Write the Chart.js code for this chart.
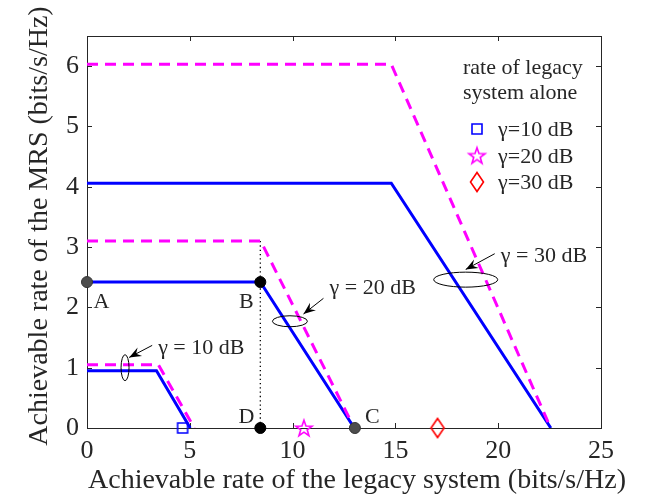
<!DOCTYPE html>
<html><head><meta charset="utf-8">
<script src="https://cdn.jsdelivr.net/npm/chart.js@4/dist/chart.umd.min.js"></script>
<style>html,body{margin:0;padding:0;background:#fff;}#wrap{width:664px;height:498px;position:relative;}</style>
</head><body><div id="wrap"><canvas id="c"></canvas></div>
<script>
// ---- data ----
const xTicks = [0, 5, 10, 15, 20, 25];
const yTicks = [0, 1, 2, 3, 4, 5, 6];
const xTitle = 'Achievable rate of the legacy system (bits/s/Hz)';
const yTitle = 'Achievable rate of the MRS (bits/s/Hz)';

// achievable rate region (blue, solid) and upper bound (magenta, dashed)
const mrs10X = [0, 3.38, 5.02];  const mrs10Y = [0.95, 0.95, 0];
const ub10X  = [0, 3.47, 5.22];  const ub10Y  = [1.05, 1.05, 0];
const mrs20X = [0, 8.43, 13.0];  const mrs20Y = [2.42, 2.42, 0];
const ub20X  = [0, 8.45, 13.0];  const ub20Y  = [3.1, 3.1, 0];
const mrs30X = [0, 14.8, 22.56]; const mrs30Y = [4.06, 4.06, 0];
const ub30X  = [0, 14.8, 22.55]; const ub30Y  = [6.03, 6.03, 0];

// special points A, B, C, D
const ptNames = ['A', 'B', 'C', 'D'];
const ptX = [0, 8.43, 13.03, 8.43];
const ptY = [2.42, 2.42, 0, 0];
// dotted guide B-D
const guideX = [8.43, 8.43]; const guideY = [3.1, 0];

// rate of legacy system alone
const legacyNames = ['\u03b3=10 dB', '\u03b3=20 dB', '\u03b3=30 dB'];
const legacyX = [4.65, 10.55, 17.05];
const legacyY = [0, 0, 0];

// annotations (data coordinates)
const noteText = ['\u03b3 = 10 dB', '\u03b3 = 20 dB', '\u03b3 = 30 dB'];
const noteEllX = [1.85, 9.87, 18.42]; const noteEllY = [1.0, 1.77, 2.46];
const noteTipX = [2.05, 10.53, 18.42]; const noteTipY = [1.17, 1.89, 2.63];
const noteTailX = [3.17, 11.5, 19.83]; const noteTailY = [1.37, 2.15, 2.89];
const noteTxtX = [3.46, 11.8, 20.13]; const noteTxtY = [1.32, 2.32, 2.85];

// ---- styles ----
const BLUE = '#0000ff', MAG = '#ff00ff', RED = '#ff0000';
const TXT = '#262626';
const SERIF = '"Liberation Serif", "Times New Roman", serif';
const noteEllR = [[4, 13], [17.5, 5.5], [32, 7.5]];

function pts(xs, ys) { return xs.map((x, i) => ({x: x, y: ys[i]})); }

function makeMarker(kind, color) {
  const c = document.createElement('canvas');
  c.width = 24; c.height = 24;
  const g = c.getContext('2d');
  g.strokeStyle = color; g.lineWidth = 1.6; g.lineJoin = 'miter';
  g.beginPath();
  if (kind === 'square') {
    g.rect(7, 7, 10, 10);
  } else if (kind === 'star') {
    const R = 8.5, r = 3.4;
    for (let i = 0; i < 10; i++) {
      const a = -Math.PI / 2 + i * Math.PI / 5;
      const rr = i % 2 === 0 ? R : r;
      const px = 12 + rr * Math.cos(a), py = 12.8 + rr * Math.sin(a);
      if (i === 0) g.moveTo(px, py); else g.lineTo(px, py);
    }
    g.closePath();
  } else {
    g.moveTo(12, 2.5); g.lineTo(18.5, 12); g.lineTo(12, 21.5); g.lineTo(5.5, 12); g.closePath();
  }
  g.stroke();
  return c;
}
const legacyMarkers = [makeMarker('square', BLUE), makeMarker('star', MAG), makeMarker('diamond', RED)];

const lineDs = (xs, ys, dashed, order) => ({
  type: 'line', data: pts(xs, ys), borderColor: dashed ? MAG : BLUE,
  borderWidth: 3, borderDash: dashed ? [11, 7] : [], pointRadius: 0,
  fill: false, tension: 0, order: order, borderCapStyle: 'butt', borderJoinStyle: 'miter'
});

const datasets = [
  lineDs(ub30X, ub30Y, true, 2), lineDs(mrs30X, mrs30Y, false, 3),
  lineDs(ub20X, ub20Y, true, 2), lineDs(mrs20X, mrs20Y, false, 3),
  lineDs(ub10X, ub10Y, true, 2), lineDs(mrs10X, mrs10Y, false, 3),
  {type: 'line', data: pts(guideX, guideY), borderColor: '#000', borderWidth: 1.3,
   borderDash: [1.3, 3], pointRadius: 0, order: 4},
  {type: 'scatter', data: pts(ptX, ptY), pointRadius: 5.5, clip: false,
   pointBackgroundColor: ['#4d4d4d', '#000', '#4d4d4d', '#000'],
   pointBorderColor: ['#333', '#000', '#333', '#000'], pointBorderWidth: 1, order: 0},
  {type: 'scatter', data: pts(legacyX, legacyY), pointStyle: legacyMarkers, pointRadius: 8, clip: false, order: 0}
];

const deco = {
  id: 'deco',
  beforeDatasetsDraw(chart) {
    const {ctx, chartArea: a, scales: {x, y}} = chart;
    ctx.save();
    ctx.strokeStyle = TXT; ctx.lineWidth = 1;
    ctx.strokeRect(a.left + 0.5, a.top + 0.5, a.right - a.left, a.bottom - a.top);
    ctx.beginPath();
    xTicks.forEach(v => {
      const p = Math.round(x.getPixelForValue(v)) + 0.5;
      ctx.moveTo(p, a.bottom); ctx.lineTo(p, a.bottom - 5);
      ctx.moveTo(p, a.top); ctx.lineTo(p, a.top + 5);
    });
    yTicks.forEach(v => {
      const p = Math.round(y.getPixelForValue(v)) + 0.5;
      ctx.moveTo(a.left, p); ctx.lineTo(a.left + 5, p);
      ctx.moveTo(a.right, p); ctx.lineTo(a.right - 5, p);
    });
    ctx.stroke();
    ctx.restore();
  },
  afterDraw(chart) {
    const {ctx, chartArea: a, scales: {x, y}} = chart;
    ctx.save();
    ctx.fillStyle = TXT;
    // axis titles
    ctx.font = '28px ' + SERIF;
    ctx.textAlign = 'center'; ctx.textBaseline = 'middle';
    ctx.fillText(xTitle, 357, 481);
    ctx.save();
    ctx.translate(40, 226); ctx.rotate(-Math.PI / 2);
    ctx.fillText(yTitle, 0, 0);
    ctx.restore();
    // annotations
    ctx.strokeStyle = '#000'; ctx.fillStyle = '#000'; ctx.lineWidth = 1;
    noteText.forEach((t, i) => {
      const ex = x.getPixelForValue(noteEllX[i]), ey = y.getPixelForValue(noteEllY[i]);
      ctx.beginPath(); ctx.ellipse(ex, ey, noteEllR[i][0], noteEllR[i][1], 0, 0, 2 * Math.PI); ctx.stroke();
      const tx = x.getPixelForValue(noteTipX[i]), ty = y.getPixelForValue(noteTipY[i]);
      const sx = x.getPixelForValue(noteTailX[i]), sy = y.getPixelForValue(noteTailY[i]);
      ctx.beginPath(); ctx.moveTo(sx, sy); ctx.lineTo(tx, ty); ctx.stroke();
      const ang = Math.atan2(ty - sy, tx - sx), L = 13, W = 0.38;
      ctx.beginPath();
      ctx.moveTo(tx, ty);
      ctx.lineTo(tx - L * Math.cos(ang - W), ty - L * Math.sin(ang - W));
      ctx.lineTo(tx - L * 0.6 * Math.cos(ang), ty - L * 0.6 * Math.sin(ang));
      ctx.lineTo(tx - L * Math.cos(ang + W), ty - L * Math.sin(ang + W));
      ctx.closePath(); ctx.fill();
      ctx.fillStyle = TXT;
      ctx.font = '22px ' + SERIF; ctx.textAlign = 'left'; ctx.textBaseline = 'middle';
      ctx.fillText(t, x.getPixelForValue(noteTxtX[i]), y.getPixelForValue(noteTxtY[i]));
      ctx.fillStyle = '#000';
    });
    // point labels
    ctx.fillStyle = TXT; ctx.font = '22px ' + SERIF; ctx.textAlign = 'center'; ctx.textBaseline = 'middle';
    const lblDX = [14.5, -14, 17.5, -14], lblDY = [-20, -20, 11, 11];
    ptNames.forEach((n, i) => {
      ctx.fillText(n, x.getPixelForValue(ptX[i]) + lblDX[i], y.getPixelForValue(ptY[i]) - lblDY[i]);
    });
    // legend
    ctx.textAlign = 'left';
    ctx.fillText('rate of legacy', 463, 68);
    ctx.fillText('system alone', 463, 93);
    legacyNames.forEach((n, i) => {
      const yy = 129 + i * 26.5;
      ctx.drawImage(legacyMarkers[i], 477 - 12, yy - 12);
      ctx.fillText(n, 498, yy + 1.5);
    });
    ctx.restore();
  }
};

new Chart(document.getElementById('c'), {
  type: 'scatter',
  data: {datasets: datasets},
  options: {
    responsive: true, maintainAspectRatio: false, animation: false,
    devicePixelRatio: 1,
    layout: {padding: {top: 36, right: 63, bottom: 0, left: 0}},
    plugins: {legend: {display: false}, tooltip: {enabled: false}},
    scales: {
      x: {
        type: 'linear', min: 0, max: 25,
        afterFit(s) { s.height = 70; },
        afterBuildTicks(s) { s.ticks = xTicks.map(v => ({value: v})); },
        grid: {display: false, drawTicks: false}, border: {display: false},
        ticks: {padding: 8, color: TXT, font: {family: SERIF, size: 26}, maxRotation: 0}
      },
      y: {
        type: 'linear', min: 0, max: 6.5,
        afterFit(s) { s.width = 87; },
        afterBuildTicks(s) { s.ticks = yTicks.map(v => ({value: v})); },
        grid: {display: false, drawTicks: false}, border: {display: false},
        ticks: {padding: 8, color: TXT, font: {family: SERIF, size: 26}}
      }
    }
  },
  plugins: [deco]
});
</script></body></html>
